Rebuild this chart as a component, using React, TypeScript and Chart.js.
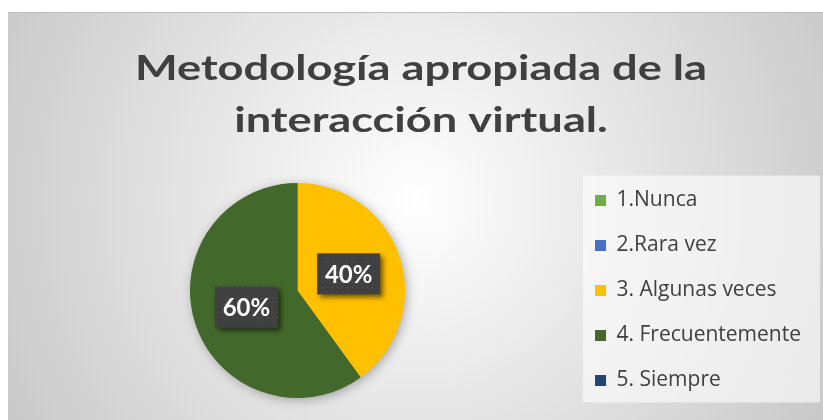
import React, { useEffect, useRef } from 'react';
import { Chart, registerables } from 'chart.js';

Chart.register(...registerables);

const categories = ['1.Nunca', '2.Rara vez', '3. Algunas veces', '4. Frecuentemente', '5. Siempre'];
const percentages = [0, 0, 40, 60, 0];
const sliceColors = ['#70AD47', '#4472C4', '#FFC000', '#43682B', '#264478'];
const titleLines = ['Metodología apropiada de la', 'interacción virtual.'];

const W = 823;
const H = 420;

function makePattern(ctx: CanvasRenderingContext2D) {
  const c = document.createElement('canvas');
  c.width = 5;
  c.height = 5;
  const p = c.getContext('2d')!;
  p.fillStyle = '#404040';
  p.fillRect(0, 0, 5, 5);
  p.fillStyle = '#525252';
  p.fillRect(2, 2, 1, 1);
  return ctx.createPattern(c, 'repeat');
}

const backgroundPlugin = {
  id: 'frameBackground',
  beforeDraw(chart: any) {
    const ctx: CanvasRenderingContext2D = chart.ctx;
    ctx.save();
    ctx.fillStyle = '#ffffff';
    ctx.fillRect(0, 0, W, H);
    const g = ctx.createRadialGradient(415, 200, 0, 415, 200, 520);
    g.addColorStop(0, '#ffffff');
    g.addColorStop(1, '#c2c2c2');
    ctx.fillStyle = g;
    ctx.fillRect(8, 12, W - 8, H - 12);
    ctx.fillStyle = '#bdbdbd';
    ctx.fillRect(8, 12, W - 8, 1);
    const hb = chart.legend && chart.legend.legendHitBoxes;
    if (hb && hb.length) {
      const first = hb[0];
      const last = hb[hb.length - 1];
      const x0 = first.left - 12;
      const y0 = first.top + first.height / 2 - 25;
      const y1 = last.top + last.height / 2 + 22;
      ctx.fillStyle = 'rgba(255,255,255,0.6)';
      ctx.fillRect(x0, y0, W - 3 - x0, y1 - y0);
    }
    ctx.restore();
  },
};

// Title drawn as real text, slightly widened to match the stretched original
const titlePlugin = {
  id: 'wideTitle',
  afterDraw(chart: any) {
    const ctx: CanvasRenderingContext2D = chart.ctx;
    const cx = 421;
    const baselines = [80, 132];
    ctx.save();
    ctx.fillStyle = '#404040';
    ctx.font = 'bold 34px Lato';
    ctx.textAlign = 'center';
    ctx.textBaseline = 'alphabetic';
    titleLines.forEach((line, i) => {
      ctx.save();
      ctx.translate(cx, baselines[i]);
      ctx.scale(1.33, 1);
      ctx.fillText(line, 0, 0);
      ctx.restore();
    });
    ctx.restore();
  },
};

const pieShadowPlugin = {
  id: 'pieShadow',
  beforeDatasetsDraw(chart: any) {
    const meta = chart.getDatasetMeta(0);
    const arc = meta.data[0];
    if (!arc) return;
    const { x, y, outerRadius } = arc.getProps(['x', 'y', 'outerRadius'], true);
    const ctx: CanvasRenderingContext2D = chart.ctx;
    ctx.save();
    ctx.shadowColor = 'rgba(0,0,0,0.35)';
    ctx.shadowBlur = 12;
    ctx.shadowOffsetX = 2;
    ctx.shadowOffsetY = 2;
    ctx.fillStyle = '#808080';
    ctx.beginPath();
    ctx.arc(x, y, outerRadius - 1, 0, Math.PI * 2);
    ctx.fill();
    ctx.restore();
  },
};

const dataLabelPlugin = {
  id: 'boxedLabels',
  afterDatasetsDraw(chart: any) {
    const ctx: CanvasRenderingContext2D = chart.ctx;
    const meta = chart.getDatasetMeta(0);
    const values: number[] = chart.data.datasets[0].data;
    const total = values.reduce((a, b) => a + b, 0);
    const pattern = makePattern(ctx);
    meta.data.forEach((arc: any, i: number) => {
      const v = values[i];
      if (!v) return;
      const { x, y } = arc.getCenterPoint();
      const text = Math.round((v / total) * 100) + '%';
      const w = 63;
      const h = 41;
      ctx.save();
      ctx.shadowColor = 'rgba(0,0,0,0.55)';
      ctx.shadowBlur = 5;
      ctx.shadowOffsetX = 3;
      ctx.shadowOffsetY = 3;
      ctx.fillStyle = pattern || '#404040';
      ctx.fillRect(x - w / 2, y - h / 2, w, h);
      ctx.restore();
      ctx.save();
      ctx.fillStyle = '#ffffff';
      ctx.font = 'bold 24px Lato';
      ctx.textAlign = 'center';
      ctx.textBaseline = 'middle';
      ctx.fillText(text, x, y + 1);
      ctx.restore();
    });
  },
};

export default function App() {
  const ref = useRef<HTMLCanvasElement>(null);
  useEffect(() => {
    let chart: Chart | null = null;
    let cancelled = false;
    const build = () => {
      if (cancelled || !ref.current) return;
      chart = new Chart(ref.current, {
        type: 'pie',
        data: {
          labels: categories,
          datasets: [
            {
              data: percentages,
              backgroundColor: sliceColors,
              borderWidth: 0,
            },
          ],
        },
        options: {
          responsive: false,
          animation: false,
          radius: 107.5,
          layout: { padding: { top: 161, left: 24, right: 12, bottom: 0 } },
          plugins: {
            title: { display: false },
            legend: {
              position: 'right',
              fullSize: false,
              labels: {
                boxWidth: 11,
                boxHeight: 11,
                padding: 24,
                color: '#404040',
                font: { family: "'Open Sans'", size: 21 },
              },
            },
            tooltip: { enabled: false },
          },
        } as any,
        plugins: [backgroundPlugin, pieShadowPlugin, dataLabelPlugin, titlePlugin],
      });
    };
    Promise.all([
      document.fonts.load('bold 34px Lato'),
      document.fonts.load('bold 24px Lato'),
      document.fonts.load("21px 'Open Sans'"),
    ])
      .catch(() => null)
      .then(build);
    return () => {
      cancelled = true;
      if (chart) chart.destroy();
    };
  }, []);
  return (
    <div style={{ position: 'absolute', left: 0, top: 0, width: W, height: H }}>
      <canvas ref={ref} width={W} height={H} style={{ display: 'block' }} />
    </div>
  );
}
